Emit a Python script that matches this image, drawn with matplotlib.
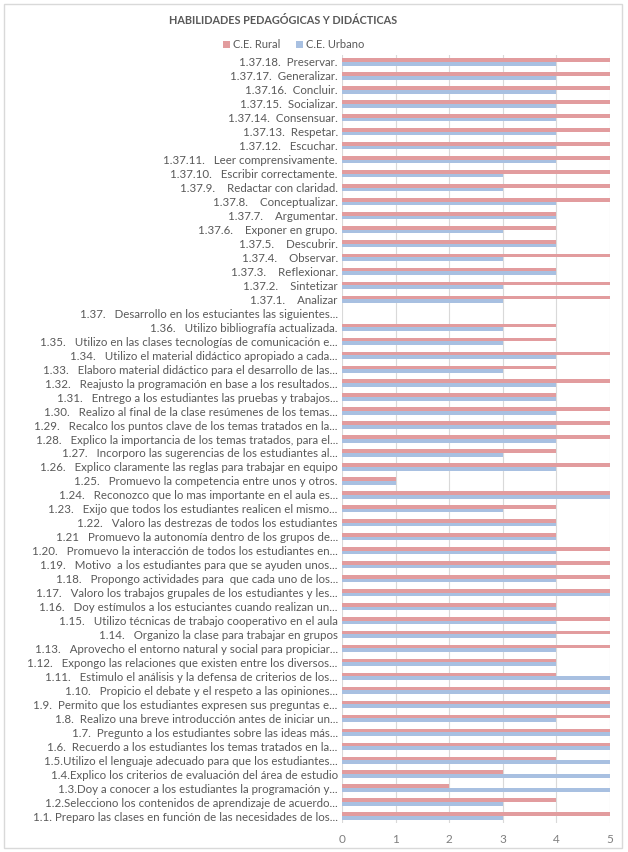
import matplotlib
matplotlib.use("Agg")
import matplotlib.pyplot as plt
from matplotlib.patches import Rectangle, Patch
import numpy as np

plt.rcParams['font.family'] = ['Lato', 'DejaVu Sans']

# Categories listed top to bottom as in the chart
categories = [
    "1.37.18.  Preservar.",
    "1.37.17.  Generalizar.",
    "1.37.16.  Concluir.",
    "1.37.15.  Socializar.",
    "1.37.14.  Consensuar.",
    "1.37.13.  Respetar.",
    "1.37.12.   Escuchar.",
    "1.37.11.   Leer comprensivamente.",
    "1.37.10.   Escribir correctamente.",
    "1.37.9.    Redactar con claridad.",
    "1.37.8.    Conceptualizar.",
    "1.37.7.    Argumentar.",
    "1.37.6.    Exponer en grupo.",
    "1.37.5.    Descubrir.",
    "1.37.4.    Observar.",
    "1.37.3.    Reflexionar.",
    "1.37.2.    Sintetizar",
    "1.37.1.    Analizar",
    "1.37.   Desarrollo en los estuciantes las siguientes...",
    "1.36.   Utilizo bibliografía actualizada.",
    "1.35.   Utilizo en las clases tecnologías de comunicación e...",
    "1.34.   Utilizo el material didáctico apropiado a cada...",
    "1.33.   Elaboro material didáctico para el desarrollo de las...",
    "1.32.   Reajusto la programación en base a los resultados...",
    "1.31.   Entrego a los estudiantes las pruebas y trabajos...",
    "1.30.   Realizo al final de la clase resúmenes de los temas...",
    "1.29.   Recalco los puntos clave de los temas tratados en la...",
    "1.28.   Explico la importancia de los temas tratados, para el...",
    "1.27.   Incorporo las sugerencias de los estudiantes al...",
    "1.26.   Explico claramente las reglas para trabajar en equipo",
    "1.25.   Promuevo la competencia entre unos y otros.",
    "1.24.   Reconozco que lo mas importante en el aula es...",
    "1.23.   Exijo que todos los estudiantes realicen el mismo...",
    "1.22.   Valoro las destrezas de todos los estudiantes",
    "1.21   Promuevo la autonomía dentro de los grupos de...",
    "1.20.   Promuevo la interacción de todos los estudiantes en...",
    "1.19.   Motivo  a los estudiantes para que se ayuden unos...",
    "1.18.   Propongo actividades para  que cada uno de los...",
    "1.17.   Valoro los trabajos grupales de los estudiantes y les...",
    "1.16.   Doy estímulos a los estuciantes cuando realizan un...",
    "1.15.   Utilizo técnicas de trabajo cooperativo en el aula",
    "1.14.   Organizo la clase para trabajar en grupos",
    "1.13.   Aprovecho el entorno natural y social para propiciar...",
    "1.12.   Expongo las relaciones que existen entre los diversos...",
    "1.11.   Estimulo el análisis y la defensa de criterios de los...",
    "1.10.   Propicio el debate y el respeto a las opiniones...",
    "1.9.  Permito que los estudiantes expresen sus preguntas e...",
    "1.8.  Realizo una breve introducción antes de iniciar un...",
    "1.7.  Pregunto a los estudiantes sobre las ideas más...",
    "1.6.  Recuerdo a los estudiantes los temas tratados en la...",
    "1.5.Utilizo el lenguaje adecuado para que los estudiantes...",
    "1.4.Explico los criterios de evaluación del área de estudio",
    "1.3.Doy a conocer a los estudiantes la programación y...",
    "1.2.Selecciono los contenidos de aprendizaje de acuerdo...",
    "1.1. Preparo las clases en función de las necesidades de los...",
]

rural = [5, 5, 5, 5, 5, 5, 5, 5, 5, 5, 5, 4, 4, 4, 5, 4, 5, 5, 0,
         4, 4, 5, 4, 5, 4, 5, 5, 5, 4, 5, 1, 5, 4, 4, 4, 5, 5, 5, 5, 4,
         5, 5, 5, 4, 4, 5, 5, 5, 5, 5, 4, 3, 2, 4, 5]
urbano = [4, 4, 4, 4, 4, 4, 4, 4, 3, 3, 4, 4, 3, 4, 3, 4, 3, 3, 0,
          3, 3, 4, 3, 4, 4, 4, 4, 4, 3, 4, 1, 5, 3, 4, 4, 4, 4, 4, 5, 4,
          4, 4, 4, 4, 5, 5, 5, 4, 5, 5, 5, 5, 5, 3, 3]

series_names = ["C.E. Rural", "C.E. Urbano"]
x_ticks = [0, 1, 2, 3, 4, 5]

RED = "#E29C9E"
BLUE = "#A8C0E1"
TXT = "#595959"

fig = plt.figure(figsize=(6.28, 8.52), dpi=100)
fig.patch.set_facecolor("white")
fig.add_artist(Rectangle((4 / 628, 4 / 852), 618 / 628, 844 / 852,
                         transform=fig.transFigure, fill=False,
                         edgecolor="#D9D9D9", linewidth=1.0))

ax = fig.add_axes([342 / 628, 1 - 823 / 852, 268 / 628, (823 - 55) / 852])

n = len(categories)
y = np.arange(n)[::-1]
h = 0.262
ax.barh(y + h / 2, rural, height=h, color=RED, label=series_names[0])
ax.barh(y - h / 2, urbano, height=h, color=BLUE, label=series_names[1])

ax.set_ylim(-0.5, n - 0.5)
ax.set_xlim(0, 5)
ax.set_xticks(x_ticks)
ax.set_xticklabels([str(t) for t in x_ticks], color="#7F7F7F", fontsize=8.5)
ax.set_yticks(y)
ax.set_yticklabels(categories, color=TXT, fontsize=8.3)
ax.tick_params(axis="both", length=0)
ax.tick_params(axis="y", pad=3)
ax.tick_params(axis="x", pad=8)
for s in ax.spines.values():
    s.set_visible(False)
ax.grid(axis="x", color="#D9D9D9", linewidth=0.8)
ax.set_axisbelow(True)

fig.text(283 / 628, 1 - 21 / 852, "HABILIDADES PEDAGÓGICAS Y DIDÁCTICAS",
         ha="center", va="center", fontsize=7.8, fontweight="bold", color=TXT)

handles = [Patch(facecolor=RED), Patch(facecolor=BLUE)]
fig.legend(handles, series_names, loc="center", bbox_to_anchor=(294 / 628, 1 - 45 / 852),
           ncol=2, frameon=False, fontsize=8, labelcolor=TXT,
           handlelength=0.6, handleheight=0.6, handletextpad=0.3, columnspacing=1.4)

fig.savefig("out.png", dpi=100, facecolor="white")
